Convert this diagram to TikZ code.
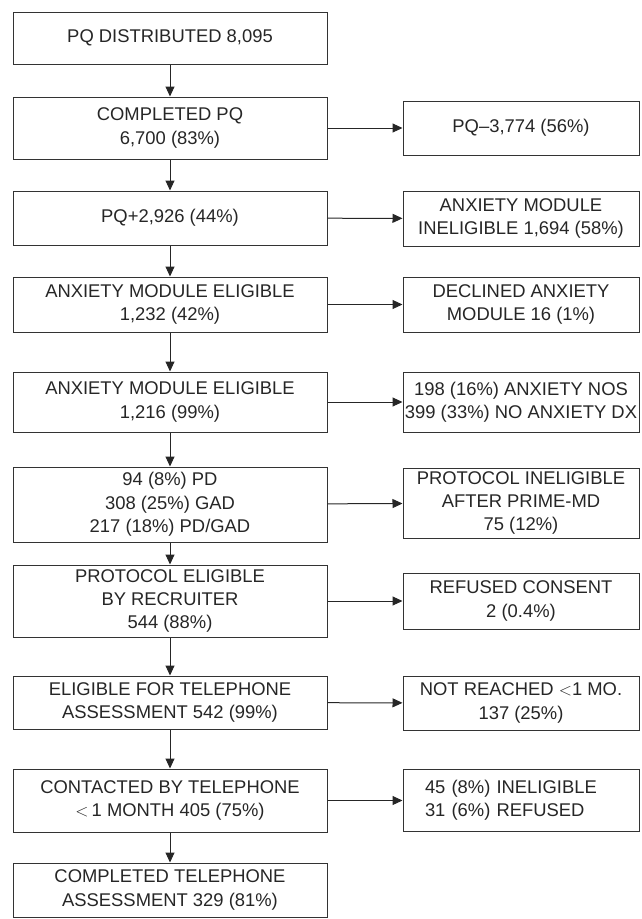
\documentclass[tikz,border=0pt]{standalone}
\usepackage{fontspec}
\setmainfont{Liberation Sans}
\usetikzlibrary{arrows.meta}
\begin{document}
\begin{tikzpicture}[x=1pt, y=-1pt,
  box/.style={draw=black!80, line width=1pt, align=center, inner xsep=0.5pt,
    font=\fontsize{18.4}{23.3}\selectfont, text=black!85},
  lbox/.style={box, minimum width=314pt},
  rbox/.style={box, minimum width=236pt},
  flow/.style={-{Triangle[length=10pt, width=9pt]}, line width=1pt, draw=black!85}]
\useasboundingbox (0,0) rectangle (641,919);
\node[lbox, minimum height=52pt] (dist) at (170,38) {PQ DISTRIBUTED 8,095};
\node[lbox, minimum height=62pt] (comp) at (170,128) {COMPLETED PQ\\6,700 (83\%)};
\node[lbox, minimum height=54pt] (pos) at (170,218) {PQ+2,926 (44\%)};
\node[lbox, minimum height=55pt] (elig) at (170,304.5) {ANXIETY MODULE ELIGIBLE\\1,232 (42\%)};
\node[lbox, minimum height=60pt] (elig2) at (170,402) {ANXIETY MODULE ELIGIBLE\\1,216 (99\%)};
\node[lbox, minimum height=75pt] (dx) at (170,504.5) {94 (8\%) PD\\308 (25\%) GAD\\217 (18\%) PD/GAD};
\node[lbox, minimum height=72pt] (recr) at (170,601) {PROTOCOL ELIGIBLE\\BY RECRUITER\\544 (88\%)};
\node[lbox, minimum height=53pt] (tel) at (170,702.5) {ELIGIBLE FOR TELEPHONE\\ASSESSMENT 542 (99\%)};
\node[lbox, minimum height=63pt] (cont) at (170,800.5) {CONTACTED BY TELEPHONE\\$<$\,1 MONTH 405 (75\%)};
\node[lbox, minimum height=54pt] (done) at (170,890) {COMPLETED TELEPHONE\\ASSESSMENT 329 (81\%)};
% exclusions
\node[rbox, minimum height=54pt] (neg) at (521,128) {PQ--3,774 (56\%)};
\node[rbox, minimum height=55pt] (inel) at (521,218.5) {ANXIETY MODULE\\INELIGIBLE 1,694 (58\%)};
\node[rbox, minimum height=55pt] (decl) at (521,304.5) {DECLINED ANXIETY\\MODULE 16 (1\%)};
\node[rbox, minimum height=60pt] (nos) at (521,402) {198 (16\%) ANXIETY NOS\\399 (33\%) NO ANXIETY DX};
\node[rbox, minimum height=70pt] (prime) at (521,503) {PROTOCOL INELIGIBLE\\AFTER PRIME-MD\\75 (12\%)};
\node[rbox, minimum height=56pt] (cons) at (521,601) {REFUSED CONSENT\\2 (0.4\%)};
\node[rbox, minimum height=54pt] (nreach) at (521,703) {NOT REACHED $<$1 MO.\\137 (25\%)};
\node[rbox, minimum height=62pt, text width=192pt, align=left, inner xsep=22pt] (refu) at (521,800.5) {45 (8\%) INELIGIBLE\\31 (6\%) REFUSED};
\draw[flow] (dist) -- (comp);
\draw[flow] (comp) -- (pos);
\draw[flow] (pos) -- (elig);
\draw[flow] (elig) -- (elig2);
\draw[flow] (elig2) -- (dx);
\draw[flow] (dx) -- (recr);
\draw[flow] (recr) -- (tel);
\draw[flow] (tel) -- (cont);
\draw[flow] (cont) -- (done);
\draw[flow] (comp) -- (neg);
\draw[flow] (pos) -- (inel);
\draw[flow] (elig) -- (decl);
\draw[flow] (elig2) -- (nos);
\draw[flow] (dx) -- (prime);
\draw[flow] (recr) -- (cons);
\draw[flow] (tel) -- (nreach);
\draw[flow] (cont) -- (refu);
\end{tikzpicture}
\end{document}
